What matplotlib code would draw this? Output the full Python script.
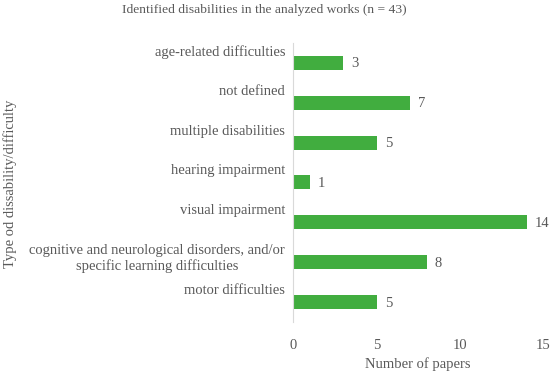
import matplotlib
matplotlib.use("Agg")
import matplotlib.pyplot as plt
from matplotlib.transforms import offset_copy, blended_transform_factory

categories = [
    "age-related difficulties",
    "not defined",
    "multiple disabilities",
    "hearing impairment",
    "visual impairment",
    "cognitive and neurological disorders, and/or\nspecific learning difficulties",
    "motor difficulties",
]
values = [3, 7, 5, 1, 14, 8, 5]
xticks = [0, 5, 10, 15]

title = "Identified disabilities in the analyzed works (n = 43)"
xlabel = "Number of papers"
ylabel = "Type od dissability/difficulty"

plt.rcParams['font.family'] = ['Liberation Serif', 'DejaVu Serif']
gray = '#595959'
bar_color = '#41AD3F'
fs = 10.5

fig = plt.figure(figsize=(5.5, 3.76), dpi=100)
ax = fig.add_axes([0.533, 0.1436, 0.455, 0.7424])

ypos = list(range(len(categories)))
ax.barh(ypos, values, height=0.35, color=bar_color)
ax.set_ylim(len(categories) - 0.5, -0.5)
ax.set_xlim(0, 15)
ax.set_xticks(xticks)
ax.set_xticklabels([str(t) for t in xticks], color=gray, fontsize=fs)
ax.tick_params(axis='x', length=0, pad=12)
ax.set_yticks([])
for s in ['top', 'right', 'bottom']:
    ax.spines[s].set_visible(False)
ax.spines['left'].set_color('#D9D9D9')

trans = blended_transform_factory(ax.transAxes, ax.transData)
for y, cat, v in zip(ypos, categories, values):
    t = offset_copy(trans, fig=fig, x=-8, y=18, units='dots')
    ax.text(0, y, cat, transform=t, ha='right', va='top', multialignment='center',
            color=gray, fontsize=fs, linespacing=1.2)
    ax.annotate(str(v), (v, y), xytext=(8, -1), textcoords='offset pixels',
                ha='left', va='center', color=gray, fontsize=fs)

fig.text(0.48, 0.973, title, ha='center', va='center', color=gray, fontsize=9.7)
fig.text(0.76, 0.032, xlabel, ha='center', va='center', color=gray, fontsize=fs)
fig.text(0.018, 0.51, ylabel, ha='center', va='center', rotation=90, color=gray, fontsize=fs)

fig.savefig("out.png", dpi=100)
